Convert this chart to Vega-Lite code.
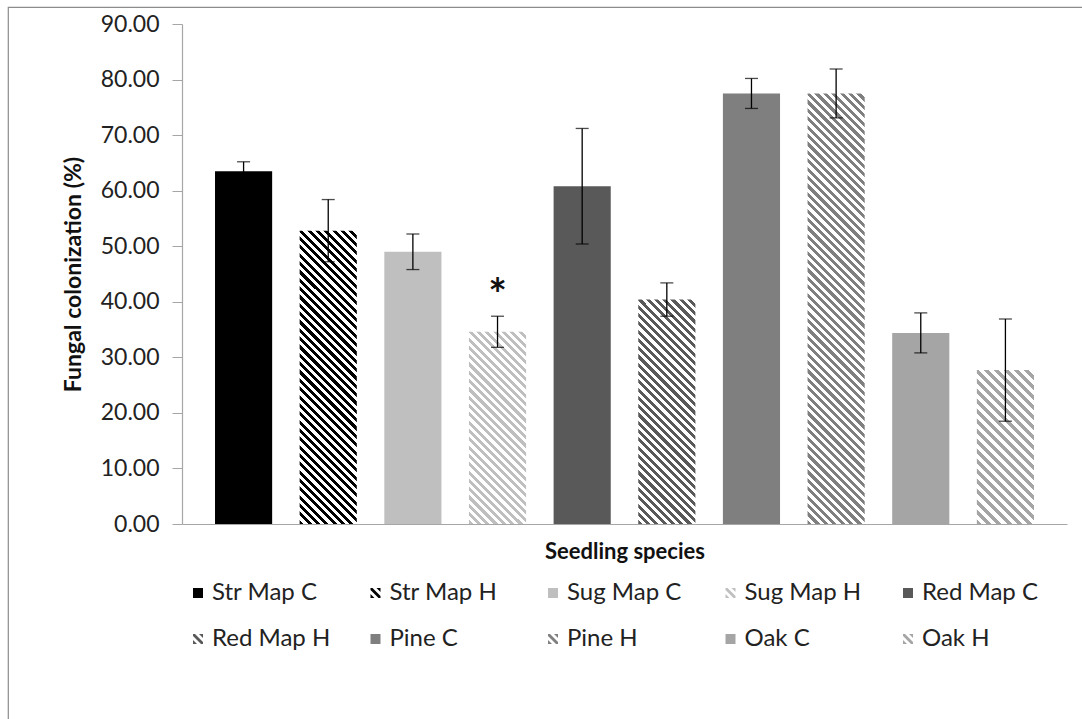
{
  "$schema": "https://vega.github.io/schema/vega-lite/v6.json",
  "width": 1080,
  "height": 720,
  "autosize": {"type": "none"},
  "padding": {"left": 8, "top": 7, "right": 0, "bottom": 0},
  "background": "white",
  "config": {
    "font": "Lato",
    "view": {"stroke": "#8c8c8c", "strokeWidth": 1.2},
    "axis": {"grid": false, "labelFont": "Lato", "titleFont": "Lato"}
  },
  "data": {
    "values": [
      {"series": "Str Map C", "value": 63.5, "se": 1.7, "sig": ""},
      {"series": "Str Map H", "value": 52.8, "se": 5.6, "sig": ""},
      {"series": "Sug Map C", "value": 49.0, "se": 3.2, "sig": ""},
      {"series": "Sug Map H", "value": 34.6, "se": 2.8, "sig": "*"},
      {"series": "Red Map C", "value": 60.8, "se": 10.4, "sig": ""},
      {"series": "Red Map H", "value": 40.4, "se": 3.0, "sig": ""},
      {"series": "Pine C", "value": 77.5, "se": 2.7, "sig": ""},
      {"series": "Pine H", "value": 77.5, "se": 4.4, "sig": ""},
      {"series": "Oak C", "value": 34.4, "se": 3.6, "sig": ""},
      {"series": "Oak H", "value": 27.7, "se": 9.2, "sig": ""}
    ]
  },
  "encoding": {
    "x": {
      "field": "series",
      "type": "nominal",
      "sort": null,
      "scale": {
        "domain": ["Str Map C", "Str Map H", "Sug Map C", "Sug Map H", "Red Map C", "Red Map H", "Pine C", "Pine H", "Oak C", "Oak H"],
        "range": [174, 1059],
        "paddingInner": 0.325,
        "paddingOuter": 0.39
      },
      "axis": {
        "orient": "bottom",
        "offset": -203,
        "labels": false,
        "ticks": false,
        "domainColor": "#a6a6a6",
        "domainWidth": 1.2,
        "title": "Seedling species",
        "titleFontSize": 22,
        "titleFontWeight": "bold",
        "titleColor": "#111",
        "titleY": 27,
        "titleBaseline": "middle"
      }
    },
    "y": {
      "field": "value",
      "type": "quantitative",
      "scale": {"domain": [0, 90], "range": [517, 17], "nice": false},
      "axis": {
        "orient": "left",
        "offset": -174,
        "values": [0, 10, 20, 30, 40, 50, 60, 70, 80, 90],
        "format": ".2f",
        "domainColor": "#a6a6a6",
        "domainWidth": 1.2,
        "tickColor": "#a6a6a6",
        "tickSize": 10,
        "labelPadding": 13,
        "labelFontSize": 23,
        "labelColor": "#222",
        "title": "Fungal colonization (%)",
        "titleFontSize": 23,
        "titleFontWeight": "bold",
        "titleColor": "#111",
        "titleX": -109,
        "titleBaseline": "middle"
      }
    }
  },
  "layer": [
    {
      "transform": [{"filter": {"field": "series", "oneOf": ["Str Map C", "Sug Map C", "Red Map C", "Pine C", "Oak C"]}}],
      "mark": {"type": "bar"},
      "encoding": {
        "fill": {
          "field": "series",
          "type": "nominal",
          "scale": {
            "domain": ["Str Map C", "Sug Map C", "Red Map C", "Pine C", "Oak C"],
            "range": ["#000000", "#bfbfbf", "#595959", "#7f7f7f", "#a5a5a5"]
          },
          "legend": null
        }
      }
    },
    {
      "transform": [{"filter": "datum.series === 'Str Map H'"}],
      "mark": {"type": "bar", "fill": {"gradient": "linear", "x1": 0, "y1": 1, "x2": 0.2242, "y2": -0.1511, "stops": [
        {"offset":0,"color":"#000"},
        {"offset":0.0119,"color":"#000"},{"offset":0.0119,"color":"#fff"},{"offset":0.0238,"color":"#fff"},{"offset":0.0238,"color":"#000"},
        {"offset":0.0357,"color":"#000"},{"offset":0.0357,"color":"#fff"},{"offset":0.0476,"color":"#fff"},{"offset":0.0476,"color":"#000"},
        {"offset":0.0595,"color":"#000"},{"offset":0.0595,"color":"#fff"},{"offset":0.0714,"color":"#fff"},{"offset":0.0714,"color":"#000"},
        {"offset":0.0833,"color":"#000"},{"offset":0.0833,"color":"#fff"},{"offset":0.0952,"color":"#fff"},{"offset":0.0952,"color":"#000"},
        {"offset":0.1071,"color":"#000"},{"offset":0.1071,"color":"#fff"},{"offset":0.119,"color":"#fff"},{"offset":0.119,"color":"#000"},
        {"offset":0.131,"color":"#000"},{"offset":0.131,"color":"#fff"},{"offset":0.1429,"color":"#fff"},{"offset":0.1429,"color":"#000"},
        {"offset":0.1548,"color":"#000"},{"offset":0.1548,"color":"#fff"},{"offset":0.1667,"color":"#fff"},{"offset":0.1667,"color":"#000"},
        {"offset":0.1786,"color":"#000"},{"offset":0.1786,"color":"#fff"},{"offset":0.1905,"color":"#fff"},{"offset":0.1905,"color":"#000"},
        {"offset":0.2024,"color":"#000"},{"offset":0.2024,"color":"#fff"},{"offset":0.2143,"color":"#fff"},{"offset":0.2143,"color":"#000"},
        {"offset":0.2262,"color":"#000"},{"offset":0.2262,"color":"#fff"},{"offset":0.2381,"color":"#fff"},{"offset":0.2381,"color":"#000"},
        {"offset":0.25,"color":"#000"},{"offset":0.25,"color":"#fff"},{"offset":0.2619,"color":"#fff"},{"offset":0.2619,"color":"#000"},
        {"offset":0.2738,"color":"#000"},{"offset":0.2738,"color":"#fff"},{"offset":0.2857,"color":"#fff"},{"offset":0.2857,"color":"#000"},
        {"offset":0.2976,"color":"#000"},{"offset":0.2976,"color":"#fff"},{"offset":0.3095,"color":"#fff"},{"offset":0.3095,"color":"#000"},
        {"offset":0.3214,"color":"#000"},{"offset":0.3214,"color":"#fff"},{"offset":0.3333,"color":"#fff"},{"offset":0.3333,"color":"#000"},
        {"offset":0.3452,"color":"#000"},{"offset":0.3452,"color":"#fff"},{"offset":0.3571,"color":"#fff"},{"offset":0.3571,"color":"#000"},
        {"offset":0.369,"color":"#000"},{"offset":0.369,"color":"#fff"},{"offset":0.381,"color":"#fff"},{"offset":0.381,"color":"#000"},
        {"offset":0.3929,"color":"#000"},{"offset":0.3929,"color":"#fff"},{"offset":0.4048,"color":"#fff"},{"offset":0.4048,"color":"#000"},
        {"offset":0.4167,"color":"#000"},{"offset":0.4167,"color":"#fff"},{"offset":0.4286,"color":"#fff"},{"offset":0.4286,"color":"#000"},
        {"offset":0.4405,"color":"#000"},{"offset":0.4405,"color":"#fff"},{"offset":0.4524,"color":"#fff"},{"offset":0.4524,"color":"#000"},
        {"offset":0.4643,"color":"#000"},{"offset":0.4643,"color":"#fff"},{"offset":0.4762,"color":"#fff"},{"offset":0.4762,"color":"#000"},
        {"offset":0.4881,"color":"#000"},{"offset":0.4881,"color":"#fff"},{"offset":0.5,"color":"#fff"},{"offset":0.5,"color":"#000"},
        {"offset":0.5119,"color":"#000"},{"offset":0.5119,"color":"#fff"},{"offset":0.5238,"color":"#fff"},{"offset":0.5238,"color":"#000"},
        {"offset":0.5357,"color":"#000"},{"offset":0.5357,"color":"#fff"},{"offset":0.5476,"color":"#fff"},{"offset":0.5476,"color":"#000"},
        {"offset":0.5595,"color":"#000"},{"offset":0.5595,"color":"#fff"},{"offset":0.5714,"color":"#fff"},{"offset":0.5714,"color":"#000"},
        {"offset":0.5833,"color":"#000"},{"offset":0.5833,"color":"#fff"},{"offset":0.5952,"color":"#fff"},{"offset":0.5952,"color":"#000"},
        {"offset":0.6071,"color":"#000"},{"offset":0.6071,"color":"#fff"},{"offset":0.619,"color":"#fff"},{"offset":0.619,"color":"#000"},
        {"offset":0.631,"color":"#000"},{"offset":0.631,"color":"#fff"},{"offset":0.6429,"color":"#fff"},{"offset":0.6429,"color":"#000"},
        {"offset":0.6548,"color":"#000"},{"offset":0.6548,"color":"#fff"},{"offset":0.6667,"color":"#fff"},{"offset":0.6667,"color":"#000"},
        {"offset":0.6786,"color":"#000"},{"offset":0.6786,"color":"#fff"},{"offset":0.6905,"color":"#fff"},{"offset":0.6905,"color":"#000"},
        {"offset":0.7024,"color":"#000"},{"offset":0.7024,"color":"#fff"},{"offset":0.7143,"color":"#fff"},{"offset":0.7143,"color":"#000"},
        {"offset":0.7262,"color":"#000"},{"offset":0.7262,"color":"#fff"},{"offset":0.7381,"color":"#fff"},{"offset":0.7381,"color":"#000"},
        {"offset":0.75,"color":"#000"},{"offset":0.75,"color":"#fff"},{"offset":0.7619,"color":"#fff"},{"offset":0.7619,"color":"#000"},
        {"offset":0.7738,"color":"#000"},{"offset":0.7738,"color":"#fff"},{"offset":0.7857,"color":"#fff"},{"offset":0.7857,"color":"#000"},
        {"offset":0.7976,"color":"#000"},{"offset":0.7976,"color":"#fff"},{"offset":0.8095,"color":"#fff"},{"offset":0.8095,"color":"#000"},
        {"offset":0.8214,"color":"#000"},{"offset":0.8214,"color":"#fff"},{"offset":0.8333,"color":"#fff"},{"offset":0.8333,"color":"#000"},
        {"offset":0.8452,"color":"#000"},{"offset":0.8452,"color":"#fff"},{"offset":0.8571,"color":"#fff"},{"offset":0.8571,"color":"#000"},
        {"offset":0.869,"color":"#000"},{"offset":0.869,"color":"#fff"},{"offset":0.881,"color":"#fff"},{"offset":0.881,"color":"#000"},
        {"offset":0.8929,"color":"#000"},{"offset":0.8929,"color":"#fff"},{"offset":0.9048,"color":"#fff"},{"offset":0.9048,"color":"#000"},
        {"offset":0.9167,"color":"#000"},{"offset":0.9167,"color":"#fff"},{"offset":0.9286,"color":"#fff"},{"offset":0.9286,"color":"#000"},
        {"offset":0.9405,"color":"#000"},{"offset":0.9405,"color":"#fff"},{"offset":0.9524,"color":"#fff"},{"offset":0.9524,"color":"#000"},
        {"offset":0.9643,"color":"#000"},{"offset":0.9643,"color":"#fff"},{"offset":0.9762,"color":"#fff"},{"offset":0.9762,"color":"#000"},
        {"offset":0.9881,"color":"#000"},{"offset":0.9881,"color":"#fff"},{"offset":1,"color":"#fff"}
      ]}}
    },
    {
      "transform": [{"filter": "datum.series === 'Sug Map H'"}],
      "mark": {"type": "bar", "fill": {"gradient": "linear", "x1": 0, "y1": 1, "x2": 0.3543, "y2": -0.192, "stops": [
        {"offset":0,"color":"#bfbfbf"},
        {"offset":0.0167,"color":"#bfbfbf"},{"offset":0.0167,"color":"#fff"},{"offset":0.0333,"color":"#fff"},{"offset":0.0333,"color":"#bfbfbf"},
        {"offset":0.05,"color":"#bfbfbf"},{"offset":0.05,"color":"#fff"},{"offset":0.0667,"color":"#fff"},{"offset":0.0667,"color":"#bfbfbf"},
        {"offset":0.0833,"color":"#bfbfbf"},{"offset":0.0833,"color":"#fff"},{"offset":0.1,"color":"#fff"},{"offset":0.1,"color":"#bfbfbf"},
        {"offset":0.1167,"color":"#bfbfbf"},{"offset":0.1167,"color":"#fff"},{"offset":0.1333,"color":"#fff"},{"offset":0.1333,"color":"#bfbfbf"},
        {"offset":0.15,"color":"#bfbfbf"},{"offset":0.15,"color":"#fff"},{"offset":0.1667,"color":"#fff"},{"offset":0.1667,"color":"#bfbfbf"},
        {"offset":0.1833,"color":"#bfbfbf"},{"offset":0.1833,"color":"#fff"},{"offset":0.2,"color":"#fff"},{"offset":0.2,"color":"#bfbfbf"},
        {"offset":0.2167,"color":"#bfbfbf"},{"offset":0.2167,"color":"#fff"},{"offset":0.2333,"color":"#fff"},{"offset":0.2333,"color":"#bfbfbf"},
        {"offset":0.25,"color":"#bfbfbf"},{"offset":0.25,"color":"#fff"},{"offset":0.2667,"color":"#fff"},{"offset":0.2667,"color":"#bfbfbf"},
        {"offset":0.2833,"color":"#bfbfbf"},{"offset":0.2833,"color":"#fff"},{"offset":0.3,"color":"#fff"},{"offset":0.3,"color":"#bfbfbf"},
        {"offset":0.3167,"color":"#bfbfbf"},{"offset":0.3167,"color":"#fff"},{"offset":0.3333,"color":"#fff"},{"offset":0.3333,"color":"#bfbfbf"},
        {"offset":0.35,"color":"#bfbfbf"},{"offset":0.35,"color":"#fff"},{"offset":0.3667,"color":"#fff"},{"offset":0.3667,"color":"#bfbfbf"},
        {"offset":0.3833,"color":"#bfbfbf"},{"offset":0.3833,"color":"#fff"},{"offset":0.4,"color":"#fff"},{"offset":0.4,"color":"#bfbfbf"},
        {"offset":0.4167,"color":"#bfbfbf"},{"offset":0.4167,"color":"#fff"},{"offset":0.4333,"color":"#fff"},{"offset":0.4333,"color":"#bfbfbf"},
        {"offset":0.45,"color":"#bfbfbf"},{"offset":0.45,"color":"#fff"},{"offset":0.4667,"color":"#fff"},{"offset":0.4667,"color":"#bfbfbf"},
        {"offset":0.4833,"color":"#bfbfbf"},{"offset":0.4833,"color":"#fff"},{"offset":0.5,"color":"#fff"},{"offset":0.5,"color":"#bfbfbf"},
        {"offset":0.5167,"color":"#bfbfbf"},{"offset":0.5167,"color":"#fff"},{"offset":0.5333,"color":"#fff"},{"offset":0.5333,"color":"#bfbfbf"},
        {"offset":0.55,"color":"#bfbfbf"},{"offset":0.55,"color":"#fff"},{"offset":0.5667,"color":"#fff"},{"offset":0.5667,"color":"#bfbfbf"},
        {"offset":0.5833,"color":"#bfbfbf"},{"offset":0.5833,"color":"#fff"},{"offset":0.6,"color":"#fff"},{"offset":0.6,"color":"#bfbfbf"},
        {"offset":0.6167,"color":"#bfbfbf"},{"offset":0.6167,"color":"#fff"},{"offset":0.6333,"color":"#fff"},{"offset":0.6333,"color":"#bfbfbf"},
        {"offset":0.65,"color":"#bfbfbf"},{"offset":0.65,"color":"#fff"},{"offset":0.6667,"color":"#fff"},{"offset":0.6667,"color":"#bfbfbf"},
        {"offset":0.6833,"color":"#bfbfbf"},{"offset":0.6833,"color":"#fff"},{"offset":0.7,"color":"#fff"},{"offset":0.7,"color":"#bfbfbf"},
        {"offset":0.7167,"color":"#bfbfbf"},{"offset":0.7167,"color":"#fff"},{"offset":0.7333,"color":"#fff"},{"offset":0.7333,"color":"#bfbfbf"},
        {"offset":0.75,"color":"#bfbfbf"},{"offset":0.75,"color":"#fff"},{"offset":0.7667,"color":"#fff"},{"offset":0.7667,"color":"#bfbfbf"},
        {"offset":0.7833,"color":"#bfbfbf"},{"offset":0.7833,"color":"#fff"},{"offset":0.8,"color":"#fff"},{"offset":0.8,"color":"#bfbfbf"},
        {"offset":0.8167,"color":"#bfbfbf"},{"offset":0.8167,"color":"#fff"},{"offset":0.8333,"color":"#fff"},{"offset":0.8333,"color":"#bfbfbf"},
        {"offset":0.85,"color":"#bfbfbf"},{"offset":0.85,"color":"#fff"},{"offset":0.8667,"color":"#fff"},{"offset":0.8667,"color":"#bfbfbf"},
        {"offset":0.8833,"color":"#bfbfbf"},{"offset":0.8833,"color":"#fff"},{"offset":0.9,"color":"#fff"},{"offset":0.9,"color":"#bfbfbf"},
        {"offset":0.9167,"color":"#bfbfbf"},{"offset":0.9167,"color":"#fff"},{"offset":0.9333,"color":"#fff"},{"offset":0.9333,"color":"#bfbfbf"},
        {"offset":0.95,"color":"#bfbfbf"},{"offset":0.95,"color":"#fff"},{"offset":0.9667,"color":"#fff"},{"offset":0.9667,"color":"#bfbfbf"},
        {"offset":0.9833,"color":"#bfbfbf"},{"offset":0.9833,"color":"#fff"},{"offset":1,"color":"#fff"}
      ]}}
    },
    {
      "transform": [{"filter": "datum.series === 'Red Map H'"}],
      "mark": {"type": "bar", "fill": {"gradient": "linear", "x1": 0, "y1": 1, "x2": 0.3, "y2": -0.1782, "stops": [
        {"offset":0,"color":"#595959"},
        {"offset":0.0147,"color":"#595959"},{"offset":0.0147,"color":"#fff"},{"offset":0.0294,"color":"#fff"},{"offset":0.0294,"color":"#595959"},
        {"offset":0.0441,"color":"#595959"},{"offset":0.0441,"color":"#fff"},{"offset":0.0588,"color":"#fff"},{"offset":0.0588,"color":"#595959"},
        {"offset":0.0735,"color":"#595959"},{"offset":0.0735,"color":"#fff"},{"offset":0.0882,"color":"#fff"},{"offset":0.0882,"color":"#595959"},
        {"offset":0.1029,"color":"#595959"},{"offset":0.1029,"color":"#fff"},{"offset":0.1176,"color":"#fff"},{"offset":0.1176,"color":"#595959"},
        {"offset":0.1324,"color":"#595959"},{"offset":0.1324,"color":"#fff"},{"offset":0.1471,"color":"#fff"},{"offset":0.1471,"color":"#595959"},
        {"offset":0.1618,"color":"#595959"},{"offset":0.1618,"color":"#fff"},{"offset":0.1765,"color":"#fff"},{"offset":0.1765,"color":"#595959"},
        {"offset":0.1912,"color":"#595959"},{"offset":0.1912,"color":"#fff"},{"offset":0.2059,"color":"#fff"},{"offset":0.2059,"color":"#595959"},
        {"offset":0.2206,"color":"#595959"},{"offset":0.2206,"color":"#fff"},{"offset":0.2353,"color":"#fff"},{"offset":0.2353,"color":"#595959"},
        {"offset":0.25,"color":"#595959"},{"offset":0.25,"color":"#fff"},{"offset":0.2647,"color":"#fff"},{"offset":0.2647,"color":"#595959"},
        {"offset":0.2794,"color":"#595959"},{"offset":0.2794,"color":"#fff"},{"offset":0.2941,"color":"#fff"},{"offset":0.2941,"color":"#595959"},
        {"offset":0.3088,"color":"#595959"},{"offset":0.3088,"color":"#fff"},{"offset":0.3235,"color":"#fff"},{"offset":0.3235,"color":"#595959"},
        {"offset":0.3382,"color":"#595959"},{"offset":0.3382,"color":"#fff"},{"offset":0.3529,"color":"#fff"},{"offset":0.3529,"color":"#595959"},
        {"offset":0.3676,"color":"#595959"},{"offset":0.3676,"color":"#fff"},{"offset":0.3824,"color":"#fff"},{"offset":0.3824,"color":"#595959"},
        {"offset":0.3971,"color":"#595959"},{"offset":0.3971,"color":"#fff"},{"offset":0.4118,"color":"#fff"},{"offset":0.4118,"color":"#595959"},
        {"offset":0.4265,"color":"#595959"},{"offset":0.4265,"color":"#fff"},{"offset":0.4412,"color":"#fff"},{"offset":0.4412,"color":"#595959"},
        {"offset":0.4559,"color":"#595959"},{"offset":0.4559,"color":"#fff"},{"offset":0.4706,"color":"#fff"},{"offset":0.4706,"color":"#595959"},
        {"offset":0.4853,"color":"#595959"},{"offset":0.4853,"color":"#fff"},{"offset":0.5,"color":"#fff"},{"offset":0.5,"color":"#595959"},
        {"offset":0.5147,"color":"#595959"},{"offset":0.5147,"color":"#fff"},{"offset":0.5294,"color":"#fff"},{"offset":0.5294,"color":"#595959"},
        {"offset":0.5441,"color":"#595959"},{"offset":0.5441,"color":"#fff"},{"offset":0.5588,"color":"#fff"},{"offset":0.5588,"color":"#595959"},
        {"offset":0.5735,"color":"#595959"},{"offset":0.5735,"color":"#fff"},{"offset":0.5882,"color":"#fff"},{"offset":0.5882,"color":"#595959"},
        {"offset":0.6029,"color":"#595959"},{"offset":0.6029,"color":"#fff"},{"offset":0.6176,"color":"#fff"},{"offset":0.6176,"color":"#595959"},
        {"offset":0.6324,"color":"#595959"},{"offset":0.6324,"color":"#fff"},{"offset":0.6471,"color":"#fff"},{"offset":0.6471,"color":"#595959"},
        {"offset":0.6618,"color":"#595959"},{"offset":0.6618,"color":"#fff"},{"offset":0.6765,"color":"#fff"},{"offset":0.6765,"color":"#595959"},
        {"offset":0.6912,"color":"#595959"},{"offset":0.6912,"color":"#fff"},{"offset":0.7059,"color":"#fff"},{"offset":0.7059,"color":"#595959"},
        {"offset":0.7206,"color":"#595959"},{"offset":0.7206,"color":"#fff"},{"offset":0.7353,"color":"#fff"},{"offset":0.7353,"color":"#595959"},
        {"offset":0.75,"color":"#595959"},{"offset":0.75,"color":"#fff"},{"offset":0.7647,"color":"#fff"},{"offset":0.7647,"color":"#595959"},
        {"offset":0.7794,"color":"#595959"},{"offset":0.7794,"color":"#fff"},{"offset":0.7941,"color":"#fff"},{"offset":0.7941,"color":"#595959"},
        {"offset":0.8088,"color":"#595959"},{"offset":0.8088,"color":"#fff"},{"offset":0.8235,"color":"#fff"},{"offset":0.8235,"color":"#595959"},
        {"offset":0.8382,"color":"#595959"},{"offset":0.8382,"color":"#fff"},{"offset":0.8529,"color":"#fff"},{"offset":0.8529,"color":"#595959"},
        {"offset":0.8676,"color":"#595959"},{"offset":0.8676,"color":"#fff"},{"offset":0.8824,"color":"#fff"},{"offset":0.8824,"color":"#595959"},
        {"offset":0.8971,"color":"#595959"},{"offset":0.8971,"color":"#fff"},{"offset":0.9118,"color":"#fff"},{"offset":0.9118,"color":"#595959"},
        {"offset":0.9265,"color":"#595959"},{"offset":0.9265,"color":"#fff"},{"offset":0.9412,"color":"#fff"},{"offset":0.9412,"color":"#595959"},
        {"offset":0.9559,"color":"#595959"},{"offset":0.9559,"color":"#fff"},{"offset":0.9706,"color":"#fff"},{"offset":0.9706,"color":"#595959"},
        {"offset":0.9853,"color":"#595959"},{"offset":0.9853,"color":"#fff"},{"offset":1,"color":"#fff"}
      ]}}
    },
    {
      "transform": [{"filter": "datum.series === 'Pine H'"}],
      "mark": {"type": "bar", "fill": {"gradient": "linear", "x1": 0, "y1": 1, "x2": 0.1477, "y2": -0.1131, "stops": [
        {"offset":0,"color":"#7f7f7f"},
        {"offset":0.0086,"color":"#7f7f7f"},{"offset":0.0086,"color":"#fff"},{"offset":0.0172,"color":"#fff"},{"offset":0.0172,"color":"#7f7f7f"},
        {"offset":0.0259,"color":"#7f7f7f"},{"offset":0.0259,"color":"#fff"},{"offset":0.0345,"color":"#fff"},{"offset":0.0345,"color":"#7f7f7f"},
        {"offset":0.0431,"color":"#7f7f7f"},{"offset":0.0431,"color":"#fff"},{"offset":0.0517,"color":"#fff"},{"offset":0.0517,"color":"#7f7f7f"},
        {"offset":0.0603,"color":"#7f7f7f"},{"offset":0.0603,"color":"#fff"},{"offset":0.069,"color":"#fff"},{"offset":0.069,"color":"#7f7f7f"},
        {"offset":0.0776,"color":"#7f7f7f"},{"offset":0.0776,"color":"#fff"},{"offset":0.0862,"color":"#fff"},{"offset":0.0862,"color":"#7f7f7f"},
        {"offset":0.0948,"color":"#7f7f7f"},{"offset":0.0948,"color":"#fff"},{"offset":0.1034,"color":"#fff"},{"offset":0.1034,"color":"#7f7f7f"},
        {"offset":0.1121,"color":"#7f7f7f"},{"offset":0.1121,"color":"#fff"},{"offset":0.1207,"color":"#fff"},{"offset":0.1207,"color":"#7f7f7f"},
        {"offset":0.1293,"color":"#7f7f7f"},{"offset":0.1293,"color":"#fff"},{"offset":0.1379,"color":"#fff"},{"offset":0.1379,"color":"#7f7f7f"},
        {"offset":0.1466,"color":"#7f7f7f"},{"offset":0.1466,"color":"#fff"},{"offset":0.1552,"color":"#fff"},{"offset":0.1552,"color":"#7f7f7f"},
        {"offset":0.1638,"color":"#7f7f7f"},{"offset":0.1638,"color":"#fff"},{"offset":0.1724,"color":"#fff"},{"offset":0.1724,"color":"#7f7f7f"},
        {"offset":0.181,"color":"#7f7f7f"},{"offset":0.181,"color":"#fff"},{"offset":0.1897,"color":"#fff"},{"offset":0.1897,"color":"#7f7f7f"},
        {"offset":0.1983,"color":"#7f7f7f"},{"offset":0.1983,"color":"#fff"},{"offset":0.2069,"color":"#fff"},{"offset":0.2069,"color":"#7f7f7f"},
        {"offset":0.2155,"color":"#7f7f7f"},{"offset":0.2155,"color":"#fff"},{"offset":0.2241,"color":"#fff"},{"offset":0.2241,"color":"#7f7f7f"},
        {"offset":0.2328,"color":"#7f7f7f"},{"offset":0.2328,"color":"#fff"},{"offset":0.2414,"color":"#fff"},{"offset":0.2414,"color":"#7f7f7f"},
        {"offset":0.25,"color":"#7f7f7f"},{"offset":0.25,"color":"#fff"},{"offset":0.2586,"color":"#fff"},{"offset":0.2586,"color":"#7f7f7f"},
        {"offset":0.2672,"color":"#7f7f7f"},{"offset":0.2672,"color":"#fff"},{"offset":0.2759,"color":"#fff"},{"offset":0.2759,"color":"#7f7f7f"},
        {"offset":0.2845,"color":"#7f7f7f"},{"offset":0.2845,"color":"#fff"},{"offset":0.2931,"color":"#fff"},{"offset":0.2931,"color":"#7f7f7f"},
        {"offset":0.3017,"color":"#7f7f7f"},{"offset":0.3017,"color":"#fff"},{"offset":0.3103,"color":"#fff"},{"offset":0.3103,"color":"#7f7f7f"},
        {"offset":0.319,"color":"#7f7f7f"},{"offset":0.319,"color":"#fff"},{"offset":0.3276,"color":"#fff"},{"offset":0.3276,"color":"#7f7f7f"},
        {"offset":0.3362,"color":"#7f7f7f"},{"offset":0.3362,"color":"#fff"},{"offset":0.3448,"color":"#fff"},{"offset":0.3448,"color":"#7f7f7f"},
        {"offset":0.3534,"color":"#7f7f7f"},{"offset":0.3534,"color":"#fff"},{"offset":0.3621,"color":"#fff"},{"offset":0.3621,"color":"#7f7f7f"},
        {"offset":0.3707,"color":"#7f7f7f"},{"offset":0.3707,"color":"#fff"},{"offset":0.3793,"color":"#fff"},{"offset":0.3793,"color":"#7f7f7f"},
        {"offset":0.3879,"color":"#7f7f7f"},{"offset":0.3879,"color":"#fff"},{"offset":0.3966,"color":"#fff"},{"offset":0.3966,"color":"#7f7f7f"},
        {"offset":0.4052,"color":"#7f7f7f"},{"offset":0.4052,"color":"#fff"},{"offset":0.4138,"color":"#fff"},{"offset":0.4138,"color":"#7f7f7f"},
        {"offset":0.4224,"color":"#7f7f7f"},{"offset":0.4224,"color":"#fff"},{"offset":0.431,"color":"#fff"},{"offset":0.431,"color":"#7f7f7f"},
        {"offset":0.4397,"color":"#7f7f7f"},{"offset":0.4397,"color":"#fff"},{"offset":0.4483,"color":"#fff"},{"offset":0.4483,"color":"#7f7f7f"},
        {"offset":0.4569,"color":"#7f7f7f"},{"offset":0.4569,"color":"#fff"},{"offset":0.4655,"color":"#fff"},{"offset":0.4655,"color":"#7f7f7f"},
        {"offset":0.4741,"color":"#7f7f7f"},{"offset":0.4741,"color":"#fff"},{"offset":0.4828,"color":"#fff"},{"offset":0.4828,"color":"#7f7f7f"},
        {"offset":0.4914,"color":"#7f7f7f"},{"offset":0.4914,"color":"#fff"},{"offset":0.5,"color":"#fff"},{"offset":0.5,"color":"#7f7f7f"},
        {"offset":0.5086,"color":"#7f7f7f"},{"offset":0.5086,"color":"#fff"},{"offset":0.5172,"color":"#fff"},{"offset":0.5172,"color":"#7f7f7f"},
        {"offset":0.5259,"color":"#7f7f7f"},{"offset":0.5259,"color":"#fff"},{"offset":0.5345,"color":"#fff"},{"offset":0.5345,"color":"#7f7f7f"},
        {"offset":0.5431,"color":"#7f7f7f"},{"offset":0.5431,"color":"#fff"},{"offset":0.5517,"color":"#fff"},{"offset":0.5517,"color":"#7f7f7f"},
        {"offset":0.5603,"color":"#7f7f7f"},{"offset":0.5603,"color":"#fff"},{"offset":0.569,"color":"#fff"},{"offset":0.569,"color":"#7f7f7f"},
        {"offset":0.5776,"color":"#7f7f7f"},{"offset":0.5776,"color":"#fff"},{"offset":0.5862,"color":"#fff"},{"offset":0.5862,"color":"#7f7f7f"},
        {"offset":0.5948,"color":"#7f7f7f"},{"offset":0.5948,"color":"#fff"},{"offset":0.6034,"color":"#fff"},{"offset":0.6034,"color":"#7f7f7f"},
        {"offset":0.6121,"color":"#7f7f7f"},{"offset":0.6121,"color":"#fff"},{"offset":0.6207,"color":"#fff"},{"offset":0.6207,"color":"#7f7f7f"},
        {"offset":0.6293,"color":"#7f7f7f"},{"offset":0.6293,"color":"#fff"},{"offset":0.6379,"color":"#fff"},{"offset":0.6379,"color":"#7f7f7f"},
        {"offset":0.6466,"color":"#7f7f7f"},{"offset":0.6466,"color":"#fff"},{"offset":0.6552,"color":"#fff"},{"offset":0.6552,"color":"#7f7f7f"},
        {"offset":0.6638,"color":"#7f7f7f"},{"offset":0.6638,"color":"#fff"},{"offset":0.6724,"color":"#fff"},{"offset":0.6724,"color":"#7f7f7f"},
        {"offset":0.681,"color":"#7f7f7f"},{"offset":0.681,"color":"#fff"},{"offset":0.6897,"color":"#fff"},{"offset":0.6897,"color":"#7f7f7f"},
        {"offset":0.6983,"color":"#7f7f7f"},{"offset":0.6983,"color":"#fff"},{"offset":0.7069,"color":"#fff"},{"offset":0.7069,"color":"#7f7f7f"},
        {"offset":0.7155,"color":"#7f7f7f"},{"offset":0.7155,"color":"#fff"},{"offset":0.7241,"color":"#fff"},{"offset":0.7241,"color":"#7f7f7f"},
        {"offset":0.7328,"color":"#7f7f7f"},{"offset":0.7328,"color":"#fff"},{"offset":0.7414,"color":"#fff"},{"offset":0.7414,"color":"#7f7f7f"},
        {"offset":0.75,"color":"#7f7f7f"},{"offset":0.75,"color":"#fff"},{"offset":0.7586,"color":"#fff"},{"offset":0.7586,"color":"#7f7f7f"},
        {"offset":0.7672,"color":"#7f7f7f"},{"offset":0.7672,"color":"#fff"},{"offset":0.7759,"color":"#fff"},{"offset":0.7759,"color":"#7f7f7f"},
        {"offset":0.7845,"color":"#7f7f7f"},{"offset":0.7845,"color":"#fff"},{"offset":0.7931,"color":"#fff"},{"offset":0.7931,"color":"#7f7f7f"},
        {"offset":0.8017,"color":"#7f7f7f"},{"offset":0.8017,"color":"#fff"},{"offset":0.8103,"color":"#fff"},{"offset":0.8103,"color":"#7f7f7f"},
        {"offset":0.819,"color":"#7f7f7f"},{"offset":0.819,"color":"#fff"},{"offset":0.8276,"color":"#fff"},{"offset":0.8276,"color":"#7f7f7f"},
        {"offset":0.8362,"color":"#7f7f7f"},{"offset":0.8362,"color":"#fff"},{"offset":0.8448,"color":"#fff"},{"offset":0.8448,"color":"#7f7f7f"},
        {"offset":0.8534,"color":"#7f7f7f"},{"offset":0.8534,"color":"#fff"},{"offset":0.8621,"color":"#fff"},{"offset":0.8621,"color":"#7f7f7f"},
        {"offset":0.8707,"color":"#7f7f7f"},{"offset":0.8707,"color":"#fff"},{"offset":0.8793,"color":"#fff"},{"offset":0.8793,"color":"#7f7f7f"},
        {"offset":0.8879,"color":"#7f7f7f"},{"offset":0.8879,"color":"#fff"},{"offset":0.8966,"color":"#fff"},{"offset":0.8966,"color":"#7f7f7f"},
        {"offset":0.9052,"color":"#7f7f7f"},{"offset":0.9052,"color":"#fff"},{"offset":0.9138,"color":"#fff"},{"offset":0.9138,"color":"#7f7f7f"},
        {"offset":0.9224,"color":"#7f7f7f"},{"offset":0.9224,"color":"#fff"},{"offset":0.931,"color":"#fff"},{"offset":0.931,"color":"#7f7f7f"},
        {"offset":0.9397,"color":"#7f7f7f"},{"offset":0.9397,"color":"#fff"},{"offset":0.9483,"color":"#fff"},{"offset":0.9483,"color":"#7f7f7f"},
        {"offset":0.9569,"color":"#7f7f7f"},{"offset":0.9569,"color":"#fff"},{"offset":0.9655,"color":"#fff"},{"offset":0.9655,"color":"#7f7f7f"},
        {"offset":0.9741,"color":"#7f7f7f"},{"offset":0.9741,"color":"#fff"},{"offset":0.9828,"color":"#fff"},{"offset":0.9828,"color":"#7f7f7f"},
        {"offset":0.9914,"color":"#7f7f7f"},{"offset":0.9914,"color":"#fff"},{"offset":1,"color":"#fff"}
      ]}}
    },
    {
      "transform": [{"filter": "datum.series === 'Oak H'"}],
      "mark": {"type": "bar", "fill": {"gradient": "linear", "x1": 0, "y1": 1, "x2": 0.4475, "y2": -0.2052, "stops": [
        {"offset":0,"color":"#a5a5a5"},
        {"offset":0.0238,"color":"#a5a5a5"},{"offset":0.0238,"color":"#fff"},{"offset":0.0476,"color":"#fff"},{"offset":0.0476,"color":"#a5a5a5"},
        {"offset":0.0714,"color":"#a5a5a5"},{"offset":0.0714,"color":"#fff"},{"offset":0.0952,"color":"#fff"},{"offset":0.0952,"color":"#a5a5a5"},
        {"offset":0.119,"color":"#a5a5a5"},{"offset":0.119,"color":"#fff"},{"offset":0.1429,"color":"#fff"},{"offset":0.1429,"color":"#a5a5a5"},
        {"offset":0.1667,"color":"#a5a5a5"},{"offset":0.1667,"color":"#fff"},{"offset":0.1905,"color":"#fff"},{"offset":0.1905,"color":"#a5a5a5"},
        {"offset":0.2143,"color":"#a5a5a5"},{"offset":0.2143,"color":"#fff"},{"offset":0.2381,"color":"#fff"},{"offset":0.2381,"color":"#a5a5a5"},
        {"offset":0.2619,"color":"#a5a5a5"},{"offset":0.2619,"color":"#fff"},{"offset":0.2857,"color":"#fff"},{"offset":0.2857,"color":"#a5a5a5"},
        {"offset":0.3095,"color":"#a5a5a5"},{"offset":0.3095,"color":"#fff"},{"offset":0.3333,"color":"#fff"},{"offset":0.3333,"color":"#a5a5a5"},
        {"offset":0.3571,"color":"#a5a5a5"},{"offset":0.3571,"color":"#fff"},{"offset":0.381,"color":"#fff"},{"offset":0.381,"color":"#a5a5a5"},
        {"offset":0.4048,"color":"#a5a5a5"},{"offset":0.4048,"color":"#fff"},{"offset":0.4286,"color":"#fff"},{"offset":0.4286,"color":"#a5a5a5"},
        {"offset":0.4524,"color":"#a5a5a5"},{"offset":0.4524,"color":"#fff"},{"offset":0.4762,"color":"#fff"},{"offset":0.4762,"color":"#a5a5a5"},
        {"offset":0.5,"color":"#a5a5a5"},{"offset":0.5,"color":"#fff"},{"offset":0.5238,"color":"#fff"},{"offset":0.5238,"color":"#a5a5a5"},
        {"offset":0.5476,"color":"#a5a5a5"},{"offset":0.5476,"color":"#fff"},{"offset":0.5714,"color":"#fff"},{"offset":0.5714,"color":"#a5a5a5"},
        {"offset":0.5952,"color":"#a5a5a5"},{"offset":0.5952,"color":"#fff"},{"offset":0.619,"color":"#fff"},{"offset":0.619,"color":"#a5a5a5"},
        {"offset":0.6429,"color":"#a5a5a5"},{"offset":0.6429,"color":"#fff"},{"offset":0.6667,"color":"#fff"},{"offset":0.6667,"color":"#a5a5a5"},
        {"offset":0.6905,"color":"#a5a5a5"},{"offset":0.6905,"color":"#fff"},{"offset":0.7143,"color":"#fff"},{"offset":0.7143,"color":"#a5a5a5"},
        {"offset":0.7381,"color":"#a5a5a5"},{"offset":0.7381,"color":"#fff"},{"offset":0.7619,"color":"#fff"},{"offset":0.7619,"color":"#a5a5a5"},
        {"offset":0.7857,"color":"#a5a5a5"},{"offset":0.7857,"color":"#fff"},{"offset":0.8095,"color":"#fff"},{"offset":0.8095,"color":"#a5a5a5"},
        {"offset":0.8333,"color":"#a5a5a5"},{"offset":0.8333,"color":"#fff"},{"offset":0.8571,"color":"#fff"},{"offset":0.8571,"color":"#a5a5a5"},
        {"offset":0.881,"color":"#a5a5a5"},{"offset":0.881,"color":"#fff"},{"offset":0.9048,"color":"#fff"},{"offset":0.9048,"color":"#a5a5a5"},
        {"offset":0.9286,"color":"#a5a5a5"},{"offset":0.9286,"color":"#fff"},{"offset":0.9524,"color":"#fff"},{"offset":0.9524,"color":"#a5a5a5"},
        {"offset":0.9762,"color":"#a5a5a5"},{"offset":0.9762,"color":"#fff"},{"offset":1,"color":"#fff"}
      ]}}
    },
    {
      "mark": {"type": "errorbar", "ticks": true, "size": 13, "thickness": 1.3, "color": "#000"},
      "encoding": {"yError": {"field": "se"}}
    },
    {
      "transform": [{"filter": "datum.sig !== ''"}],
      "mark": {"type": "text", "font": "Lato", "fontSize": 44, "fontWeight": "bold", "color": "#111", "baseline": "alphabetic", "dy": -22},
      "encoding": {"text": {"field": "sig"}}
    },
    {
      "mark": {"type": "point", "filled": true, "opacity": 0},
      "encoding": {
        "color": {
          "field": "series",
          "type": "nominal",
          "scale": {
            "domain": ["Str Map C", "Str Map H", "Sug Map C", "Sug Map H", "Red Map C", "Red Map H", "Pine C", "Pine H", "Oak C", "Oak H"],
            "range": ["#000000", "#000000", "#bfbfbf", "#bfbfbf", "#595959", "#595959", "#7f7f7f", "#7f7f7f", "#a5a5a5", "#a5a5a5"]
          },
          "legend": {
            "orient": "none",
            "legendX": 178,
            "legendY": 574,
            "direction": "horizontal",
            "columns": 5,
            "gridAlign": "all",
            "columnPadding": 32.5,
            "rowPadding": 22,
            "padding": 0,
            "title": null,
            "symbolSize": 100,
            "symbolOpacity": 1,
            "symbolStrokeWidth": 0,
            "labelFont": "Lato",
            "labelFontSize": 24,
            "labelColor": "#222",
            "labelOffset": 2
          }
        },
        "shape": {
          "field": "series",
          "type": "nominal",
          "scale": {
            "domain": ["Str Map C", "Str Map H", "Sug Map C", "Sug Map H", "Red Map C", "Red Map H", "Pine C", "Pine H", "Oak C", "Oak H"],
            "range": [
              "square",
              "M-1,0.2L-1,1L-0.2,1Z M-1,-1L-0.6,-1L1,0.6L1,1L0.6,1L-1,-0.6Z M0.2,-1L1,-1L1,-0.2Z",
              "square",
              "M-1,0.2L-1,1L-0.2,1Z M-1,-1L-0.6,-1L1,0.6L1,1L0.6,1L-1,-0.6Z M0.2,-1L1,-1L1,-0.2Z",
              "square",
              "M-1,0.2L-1,1L-0.2,1Z M-1,-1L-0.6,-1L1,0.6L1,1L0.6,1L-1,-0.6Z M0.2,-1L1,-1L1,-0.2Z",
              "square",
              "M-1,0.2L-1,1L-0.2,1Z M-1,-1L-0.6,-1L1,0.6L1,1L0.6,1L-1,-0.6Z M0.2,-1L1,-1L1,-0.2Z",
              "square",
              "M-1,0.2L-1,1L-0.2,1Z M-1,-1L-0.6,-1L1,0.6L1,1L0.6,1L-1,-0.6Z M0.2,-1L1,-1L1,-0.2Z"
            ]
          },
          "legend": {
            "orient": "none",
            "legendX": 178,
            "legendY": 574,
            "direction": "horizontal",
            "columns": 5,
            "gridAlign": "all",
            "columnPadding": 32.5,
            "rowPadding": 22,
            "padding": 0,
            "title": null,
            "symbolSize": 100,
            "symbolOpacity": 1,
            "symbolStrokeWidth": 0,
            "labelFont": "Lato",
            "labelFontSize": 24,
            "labelColor": "#222",
            "labelOffset": 2
          }
        }
      }
    }
  ]
}
